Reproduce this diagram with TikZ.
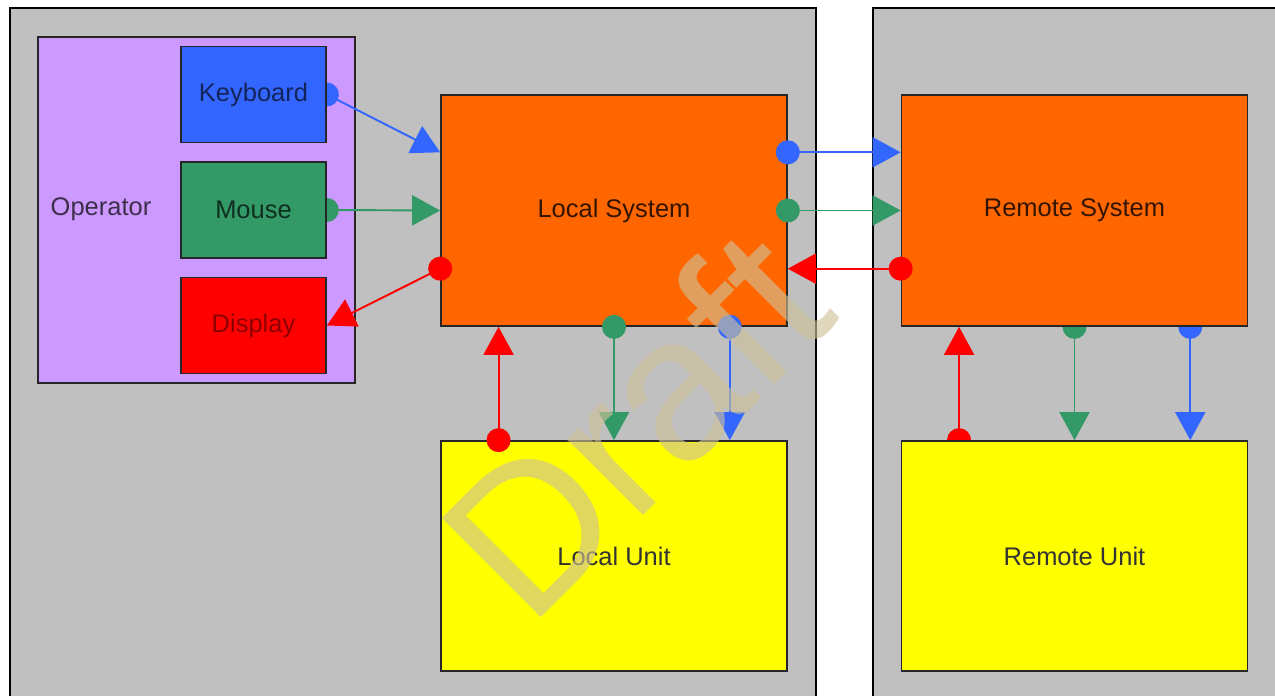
\documentclass[tikz,border=0pt]{standalone}
\usepackage{fontspec}
\setmainfont{Liberation Sans}
\usetikzlibrary{arrows.meta,calc}

\definecolor{panelgrey}{HTML}{C0C0C0}
\definecolor{oplilac}{HTML}{CC99FF}
\definecolor{kbblue}{HTML}{3366FF}
\definecolor{msgreen}{HTML}{339966}
\definecolor{dpred}{HTML}{FF0000}
\definecolor{sysorange}{HTML}{FF6600}
\definecolor{unityellow}{HTML}{FFFF00}
\definecolor{draftbeige}{RGB}{206,193,152}

\pgfdeclarelayer{panels}
\pgfdeclarelayer{wires}
\pgfdeclarelayer{marks}
\pgfsetlayers{panels,wires,main,marks}

\tikzset{
  box/.style={draw=black!85, line width=1pt, inner sep=0pt, font=\fontsize{14.5}{17}\selectfont},
  device/.style={box, minimum width=2.9cm, minimum height=1.92cm},
  system/.style={box, fill=sysorange, text=black!80!sysorange, minimum width=6.92cm, minimum height=4.62cm},
  unitbox/.style={box, fill=unityellow, text=black!80, minimum width=6.92cm, minimum height=4.6cm},
  link/.style={line width=1.1pt, shorten <=-0.24cm,
    {Circle[length=0.48cm,width=0.48cm]}-{Triangle[length=0.56cm,width=0.6cm]}},
}

\begin{document}
\begin{tikzpicture}[x=0.02cm, y=-0.02cm]
\useasboundingbox (0,0) rectangle (1275,696);

\begin{pgfonlayer}{panels}
\fill[white] (0,0) rectangle (1275,696);
\draw[fill=panelgrey, line width=1.2pt] (10,8) rectangle (816,720);
\draw[fill=panelgrey, line width=1.2pt] (873,8) rectangle (1300,720);
% operator side
\node[box, fill=oplilac, minimum width=6.34cm, minimum height=6.92cm] (operator) at (196.5,210) {};
\node[font=\fontsize{14.5}{17}\selectfont, text=black!70!oplilac] (optext) at (101,209) {Operator};
\end{pgfonlayer}

\node[device, fill=kbblue, text=black!65!kbblue] (keyboard) at (253.5,94.5) {Keyboard};
\node[device, fill=msgreen, text=black!70!msgreen] (mouse) at (253.5,210) {Mouse};
\node[device, fill=dpred, text=black!45!dpred] (display) at (253.5,325.5) {Display};

% systems and units
\node[system] (localsys) at (614,210.5) {Local System};
\node[unitbox] (localunit) at (614,556) {Local Unit};
\node[system] (remotesys) at (1074.5,210.5) {Remote System};
\node[unitbox] (remoteunit) at (1074.5,556) {Remote Unit};

% links half hidden under the boxes
\begin{pgfonlayer}{wires}
\draw[link, kbblue] (keyboard.east) -- ($(localsys.north west)!.25!(localsys.south west)$);
\draw[link, msgreen] (mouse.east) -- (localsys.west);
\draw[link, dpred] ($(remoteunit.north west)!.168!(remoteunit.north east)$) -- ($(remotesys.south west)!.168!(remotesys.south east)$);
\foreach \f/\c in {.5/msgreen, .833/kbblue}
  \draw[link, \c] ($(remotesys.south west)!\f!(remotesys.south east)$) -- ($(remoteunit.north west)!\f!(remoteunit.north east)$);
\end{pgfonlayer}

% links on top
\draw[link, dpred] ($(localsys.north west)!.75!(localsys.south west)$) -- (display.east);
\foreach \f/\c in {.25/kbblue, .5/msgreen}
  \draw[link, \c] ($(localsys.north east)!\f!(localsys.south east)$) -- ($(remotesys.north west)!\f!(remotesys.south west)$);
\draw[link, dpred] ($(remotesys.north west)!.75!(remotesys.south west)$) -- ($(localsys.north east)!.75!(localsys.south east)$);
\draw[link, dpred] ($(localunit.north west)!.168!(localunit.north east)$) -- ($(localsys.south west)!.168!(localsys.south east)$);
\foreach \f/\c in {.5/msgreen, .833/kbblue}
  \draw[link, \c] ($(localsys.south west)!\f!(localsys.south east)$) -- ($(localunit.north west)!\f!(localunit.north east)$);

% watermark
\begin{pgfonlayer}{marks}
\node[rotate=45, text=draftbeige, text opacity=0.63, font=\fontsize{116}{116}\selectfont] (draft) at (634,422) {Draft};
\end{pgfonlayer}
\end{tikzpicture}
\end{document}
